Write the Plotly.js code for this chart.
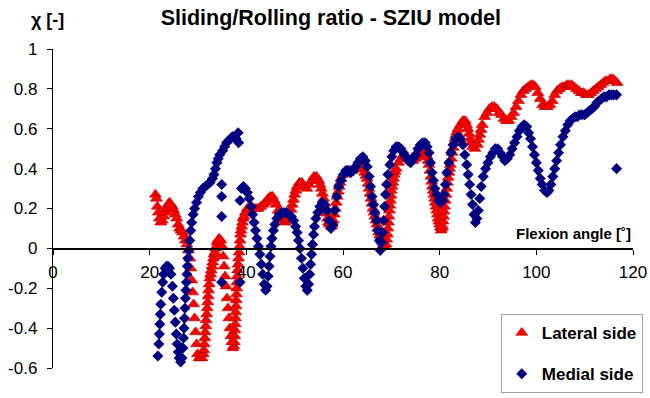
<!DOCTYPE html>
<html>
<head>
<meta charset="utf-8">
<script src="https://cdn.plot.ly/plotly-3.0.1.min.js"></script>
<style>
  html, body { margin: 0; padding: 0; background: #ffffff; }
  #chart { width: 650px; height: 398px; }
</style>
</head>
<body>
<div id="chart"></div>
<script>
// Flexion angle [deg] and sliding/rolling ratio, lateral condyle
const lateralAngle = [
  21.2,21.4,21.6,21.8,22.0,22.3,22.6,22.9,23.2,23.5,
  23.8,24.1,24.4,24.7,25.0,25.3,25.6,25.9,26.2,26.5,
  26.8,27.1,27.4,27.7,28.0,28.3,28.5,28.7,28.9,29.1,
  29.3,29.5,29.7,29.9,30.2,30.5,30.8,31.1,31.2,31.3,
  31.4,31.5,31.6,31.7,31.8,31.9,32.0,32.1,32.2,32.3,
  32.45,32.6,32.75,32.9,33.05,33.2,33.35,33.5,33.65,33.8,
  33.95,34.1,34.4,34.7,35.0,35.2,35.4,35.6,35.8,36.0,
  36.2,36.4,36.6,36.8,37.0,37.2,37.4,37.5,37.6,37.65,
  37.7,37.75,37.8,37.85,37.9,37.95,38.0,38.05,38.1,38.2,
  38.3,38.4,38.5,38.6,38.7,38.8,38.9,39.05,39.2,39.35,
  39.5,39.8,40.2,40.6,41.0,41.5,42.0,42.5,43.0,43.5,
  44.0,44.5,45.0,45.4,45.8,46.2,46.6,47.0,47.5,48.0,
  48.5,49.0,49.25,49.5,49.75,50.0,50.25,50.5,51.0,51.5,
  52.0,52.5,53.0,53.5,54.0,54.5,55.0,55.25,55.5,55.75,
  56.0,56.2,56.4,56.6,56.8,57.0,57.2,57.6,57.8,58.0,
  58.2,58.4,58.6,58.8,59.0,59.2,59.4,59.6,60.0,60.5,
  61.0,61.5,62.0,62.5,63.0,63.5,64.0,64.5,64.75,65.0,
  65.2,65.4,65.6,65.8,66.0,66.2,66.4,66.6,66.8,67.0,
  67.2,67.4,67.6,67.8,68.0,68.2,68.4,68.6,68.9,69.05,
  69.2,69.3,69.4,69.5,69.6,69.7,69.8,69.9,70.0,70.15,
  70.3,70.45,70.6,70.8,71.0,71.5,72.0,72.5,73.0,73.5,
  74.0,74.5,75.0,75.5,76.0,76.5,77.0,77.2,77.4,77.6,
  77.8,78.0,78.2,78.35,78.5,78.65,78.8,78.95,79.1,79.25,
  79.4,79.55,79.7,79.85,80.0,80.15,80.3,80.45,80.6,80.7,
  80.8,80.9,81.0,81.15,81.3,81.45,81.6,81.75,81.9,82.05,
  82.2,82.4,82.6,82.8,83.0,83.2,83.4,83.6,83.8,84.3,
  84.8,85.3,85.55,85.8,86.05,86.3,86.55,86.8,87.3,87.8,
  88.05,88.3,88.55,88.8,89.3,89.8,90.3,90.8,91.3,91.8,
  92.3,92.8,93.3,93.8,94.3,94.8,95.3,95.8,96.3,96.8,
  97.3,97.8,98.3,98.8,99.3,99.8,100.3,100.8,101.3,101.8,
  102.3,102.8,103.3,103.8,104.3,104.8,105.3,105.8,106.3,106.8,
  107.3,107.8,108.3,108.8,109.3,109.8,110.3,110.8,111.3,111.8,
  112.3,112.8,113.3,113.8,114.3,114.8,115.3,115.8,116.3,116.7
];
const lateralRatio = [
  0.27,0.25,0.21,0.18,0.15,0.13,0.14,0.16,0.18,0.20,
  0.22,0.23,0.22,0.21,0.19,0.17,0.15,0.12,0.10,0.09,
  0.08,0.06,0.04,0.02,-0.01,-0.05,-0.10,-0.16,-0.22,-0.28,
  -0.35,-0.42,-0.48,-0.53,-0.55,-0.55,-0.55,-0.53,-0.51,-0.48,
  -0.45,-0.42,-0.39,-0.36,-0.33,-0.30,-0.27,-0.24,-0.21,-0.18,
  -0.15,-0.13,-0.11,-0.09,-0.07,-0.05,-0.03,-0.02,0.00,0.01,
  0.03,0.04,0.05,0.04,0.01,-0.04,-0.09,-0.14,-0.19,-0.25,
  -0.30,-0.35,-0.40,-0.44,-0.47,-0.50,-0.49,-0.47,-0.44,-0.41,
  -0.38,-0.35,-0.32,-0.29,-0.26,-0.23,-0.20,-0.17,-0.14,-0.11,
  -0.08,-0.05,-0.02,0.01,0.04,0.07,0.09,0.11,0.13,0.15,
  0.16,0.18,0.20,0.20,0.20,0.20,0.20,0.20,0.21,0.22,
  0.23,0.25,0.26,0.26,0.24,0.22,0.19,0.16,0.14,0.13,
  0.14,0.17,0.195,0.22,0.245,0.27,0.29,0.31,0.33,0.33,
  0.31,0.30,0.32,0.34,0.36,0.36,0.34,0.32,0.30,0.275,
  0.25,0.225,0.20,0.175,0.15,0.13,0.12,0.11,0.12,0.14,
  0.17,0.20,0.23,0.26,0.285,0.31,0.33,0.35,0.37,0.38,
  0.39,0.39,0.39,0.40,0.40,0.41,0.40,0.38,0.365,0.35,
  0.325,0.30,0.275,0.25,0.225,0.20,0.18,0.16,0.14,0.12,
  0.10,0.08,0.065,0.05,0.04,0.03,0.02,0.01,0.02,0.045,
  0.07,0.10,0.13,0.16,0.19,0.215,0.24,0.265,0.29,0.31,
  0.33,0.35,0.37,0.385,0.40,0.43,0.45,0.47,0.46,0.45,
  0.44,0.44,0.45,0.46,0.47,0.48,0.48,0.47,0.46,0.44,
  0.42,0.39,0.36,0.335,0.31,0.29,0.27,0.25,0.23,0.21,
  0.19,0.17,0.15,0.135,0.12,0.105,0.09,0.10,0.11,0.135,
  0.16,0.185,0.21,0.24,0.27,0.30,0.33,0.355,0.38,0.40,
  0.42,0.45,0.48,0.505,0.53,0.55,0.57,0.585,0.60,0.62,
  0.64,0.64,0.62,0.60,0.575,0.55,0.53,0.51,0.50,0.52,
  0.545,0.57,0.595,0.62,0.66,0.68,0.70,0.71,0.71,0.70,
  0.68,0.67,0.65,0.64,0.64,0.66,0.68,0.71,0.74,0.77,
  0.79,0.80,0.81,0.82,0.82,0.81,0.78,0.75,0.72,0.71,
  0.71,0.72,0.74,0.77,0.79,0.80,0.81,0.81,0.82,0.82,
  0.82,0.81,0.80,0.79,0.78,0.78,0.77,0.77,0.78,0.79,
  0.80,0.81,0.82,0.83,0.84,0.84,0.85,0.85,0.84,0.83
];

// Flexion angle [deg] and sliding/rolling ratio, medial condyle
const medialAngle = [
  21.7,21.9,22.0,22.1,22.2,22.3,22.5,22.7,22.9,23.2,
  23.5,23.8,24.1,24.4,24.7,24.9,25.1,25.3,25.5,25.7,
  25.9,26.1,26.4,26.7,26.9,27.0,27.1,27.2,27.3,27.4,
  27.5,27.6,27.7,27.8,27.9,28.1,28.3,28.5,28.7,29.0,
  29.3,29.7,30.1,30.5,31.0,31.5,32.0,32.5,33.0,33.3,
  33.6,33.9,34.2,34.5,34.9,34.9,34.9,34.9,35.1,35.5,
  35.9,36.3,36.7,37.1,37.5,37.9,38.3,38.4,38.7,38.7,
  39.0,39.4,39.8,40.2,40.6,41.0,41.3,41.6,41.9,42.2,
  42.5,42.8,43.1,43.4,43.7,44.0,44.3,44.5,44.7,44.9,
  45.1,45.3,45.6,45.9,46.3,46.8,47.3,47.8,48.3,48.8,
  49.3,49.8,50.2,50.5,50.8,51.1,51.4,51.7,52.0,52.3,
  52.6,52.9,53.1,53.3,53.5,53.7,53.9,54.1,54.4,54.8,
  55.2,55.7,56.2,56.7,57.1,57.5,57.9,58.3,58.7,59.1,
  59.6,60.1,60.6,61.1,61.6,62.1,62.6,63.1,63.6,64.1,
  64.6,65.0,65.4,65.7,66.0,66.3,66.6,66.9,67.2,67.5,
  67.7,68.0,68.2,68.4,68.6,68.8,69.0,69.3,69.7,70.1,
  70.5,71.0,71.5,72.0,72.5,73.0,73.5,74.0,74.5,75.0,
  75.5,76.0,76.5,77.0,77.4,77.8,78.1,78.4,78.7,79.0,
  79.4,79.8,80.2,80.6,80.9,81.2,81.5,81.9,82.3,82.8,
  83.3,83.8,84.3,84.8,85.2,85.6,85.9,86.2,86.5,86.8,
  87.1,87.4,87.7,88.0,88.3,88.6,89.0,89.5,90.0,90.5,
  91.0,91.5,92.0,92.5,93.0,93.5,94.0,94.5,95.0,95.5,
  96.0,96.5,97.0,97.5,98.0,98.4,98.8,99.2,99.6,100.0,
  100.4,100.8,101.2,101.7,102.2,102.6,103.0,103.4,103.8,104.2,
  104.6,105.0,105.5,106.0,106.5,107.0,107.5,108.0,108.5,109.0,
  109.5,110.0,110.5,111.0,111.5,112.0,112.5,113.0,113.5,114.0,
  114.5,115.0,115.5,116.0,116.6,116.6
];
const medialRatio = [
  -0.54,-0.48,-0.43,-0.38,-0.33,-0.28,-0.22,-0.17,-0.13,-0.10,
  -0.09,-0.09,-0.10,-0.13,-0.19,-0.25,-0.31,-0.37,-0.43,-0.48,
  -0.52,-0.55,-0.57,-0.55,-0.50,-0.45,-0.40,-0.35,-0.30,-0.25,
  -0.21,-0.17,-0.13,-0.09,-0.05,-0.01,0.04,0.09,0.13,0.17,
  0.20,0.23,0.26,0.28,0.30,0.31,0.32,0.33,0.35,0.37,
  0.40,0.43,0.45,0.47,0.32,0.26,0.16,-0.17,0.49,0.51,
  0.53,0.54,0.55,0.56,0.56,0.55,0.58,0.53,0.24,-0.17,
  0.30,0.31,0.30,0.28,0.25,0.21,0.17,0.13,0.09,0.05,
  0.01,-0.03,-0.08,-0.13,-0.18,-0.21,-0.19,-0.14,-0.09,-0.04,
  0.01,0.05,0.09,0.12,0.15,0.17,0.18,0.18,0.18,0.17,
  0.16,0.14,0.11,0.08,0.04,0.00,-0.05,-0.10,-0.15,-0.19,
  -0.21,-0.18,-0.13,-0.08,-0.03,0.02,0.07,0.11,0.15,0.18,
  0.21,0.23,0.22,0.19,0.14,0.10,0.12,0.19,0.26,0.31,
  0.34,0.37,0.39,0.39,0.38,0.39,0.41,0.43,0.45,0.46,
  0.44,0.41,0.36,0.31,0.26,0.22,0.18,0.14,0.09,0.04,
  -0.01,0.03,0.08,0.14,0.21,0.27,0.32,0.37,0.42,0.46,
  0.49,0.51,0.51,0.50,0.48,0.46,0.44,0.43,0.45,0.47,
  0.50,0.52,0.53,0.53,0.51,0.48,0.43,0.38,0.34,0.30,
  0.27,0.24,0.23,0.24,0.27,0.32,0.38,0.43,0.48,0.52,
  0.55,0.56,0.55,0.52,0.47,0.42,0.37,0.32,0.27,0.22,
  0.17,0.13,0.15,0.19,0.25,0.31,0.36,0.40,0.43,0.46,
  0.48,0.50,0.50,0.48,0.46,0.44,0.45,0.47,0.50,0.53,
  0.56,0.59,0.61,0.62,0.61,0.58,0.55,0.51,0.47,0.43,
  0.39,0.35,0.32,0.29,0.28,0.29,0.32,0.36,0.40,0.44,
  0.48,0.52,0.56,0.59,0.62,0.64,0.65,0.66,0.66,0.67,
  0.67,0.67,0.68,0.69,0.70,0.71,0.73,0.74,0.75,0.76,
  0.76,0.77,0.77,0.77,0.77,0.40
];

// Axis ticks
const angleTicks = [0, 20, 40, 60, 80, 100, 120];
const angleTickText = ['0', '20', '40', '60', '80', '100', '120'];
const ratioTicks = [-0.6, -0.4, -0.2, 0, 0.2, 0.4, 0.6, 0.8, 1];
const ratioTickText = ['-0.6', '-0.4', '-0.2', '0', '0.2', '0.4', '0.6', '0.8', '1'];

const seriesNames = ['Lateral side', 'Medial side'];

const FONT = 'Liberation Sans, Arial, sans-serif';

const traces = [
  {
    type: 'scatter', mode: 'markers', name: seriesNames[0], legendgroup: 'lat',
    x: lateralAngle, y: lateralRatio,
    marker: { symbol: 'triangle-up', size: 10.5, color: '#ff0000',
              line: { color: '#b00000', width: 0.6 } },
    cliponaxis: false
  },
  {
    type: 'scatter', mode: 'markers', name: seriesNames[1], legendgroup: 'med',
    x: medialAngle, y: medialRatio,
    marker: { symbol: 'diamond', size: 8.5, color: '#000080',
              line: { width: 0 } },
    cliponaxis: false
  }
];

const layout = {
  width: 650, height: 398,
  margin: { l: 53, r: 17, t: 49, b: 30, pad: 0, autoexpand: false },
  paper_bgcolor: '#ffffff', plot_bgcolor: '#ffffff',
  font: { family: FONT, size: 17, color: '#000000' },
  showlegend: true,
  title: {
    text: 'Sliding/Rolling ratio - SZIU model',
    font: { family: FONT, size: 21.5, weight: 'bold', color: '#000000' },
    x: 0.509, xanchor: 'center', y: 0.955, yanchor: 'middle', xref: 'container', yref: 'container'
  },
  xaxis: {
    range: [0, 120], anchor: 'free', position: 0.375,
    tickmode: 'array', tickvals: angleTicks, ticktext: angleTickText,
    ticks: 'outside', ticklen: 5, tickwidth: 1, tickcolor: '#000000',
    ticklabelstandoff: 3,
    showline: true, linecolor: '#000000', linewidth: 1.2,
    showgrid: false, zeroline: false,
    tickfont: { family: FONT, size: 17, color: '#000000' }
  },
  yaxis: {
    range: [-0.6, 1],
    tickmode: 'array', tickvals: ratioTicks, ticktext: ratioTickText,
    ticks: 'outside', ticklen: 5, tickwidth: 1, tickcolor: '#000000',
    ticklabelstandoff: 6,
    showline: true, linecolor: '#000000', linewidth: 1.2,
    showgrid: false, zeroline: false,
    tickfont: { family: FONT, size: 17, color: '#000000' }
  },
  legend: {
    x: 0.772, y: 0.169, xanchor: 'left', yanchor: 'top',
    bgcolor: '#ffffff', bordercolor: '#a0a0a0', borderwidth: 1,
    traceorder: 'grouped', tracegroupgap: 16,
    font: { family: FONT, size: 17, weight: 'bold', color: '#000000' }
  },
  annotations: [
    {
      text: 'χ [-]', xref: 'paper', yref: 'paper', x: -0.01, y: 1.091,
      xanchor: 'center', yanchor: 'middle', showarrow: false,
      font: { family: FONT, size: 18, weight: 'bold', color: '#000000' }
    },
    {
      text: 'Flexion angle [˚]', xref: 'x', yref: 'y', x: 120, y: 0.077,
      xanchor: 'right', yanchor: 'middle', showarrow: false,
      font: { family: FONT, size: 15, weight: 'bold', color: '#000000' }
    }
  ]
};

Plotly.newPlot('chart', traces, layout, { displayModeBar: false, staticPlot: true });
</script>
</body>
</html>
